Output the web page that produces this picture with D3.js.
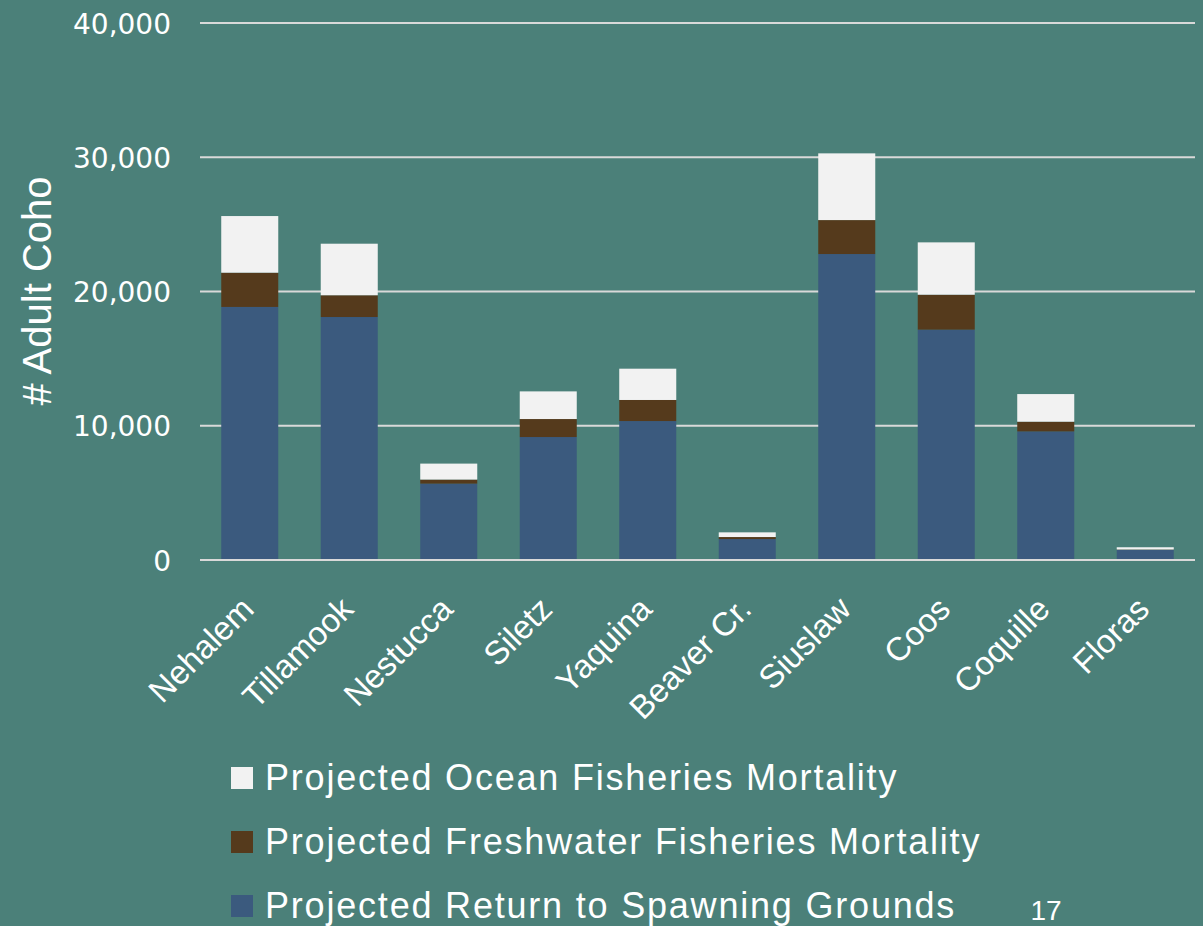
<!DOCTYPE html>
<html><head><meta charset="utf-8">
<script src="https://cdn.jsdelivr.net/npm/d3@7"></script>
<style>html,body{margin:0;padding:0;background:#4b8079;}svg{display:block;}</style>
</head><body>
<svg id="c" width="1203" height="926"></svg>
<script>
const categories = ["Nehalem","Tillamook","Nestucca","Siletz","Yaquina","Beaver Cr.","Siuslaw","Coos","Coquille","Floras"];
const spawning = [18850,18100,5690,9160,10350,1560,22790,17160,9580,750];
const freshwater = [2550,1620,300,1340,1570,150,2530,2600,720,30];
const ocean = [4220,3840,1190,2060,2330,350,4970,3900,2060,170];
const seriesNames = ["Projected Return to Spawning Grounds","Projected Freshwater Fisheries Mortality","Projected Ocean Fisheries Mortality"];
const seriesColors = ["#3b5a7e","#553a1c","#f2f2f2"];
const yTicks = [0,10000,20000,30000,40000];
const yTitle = "# Adult Coho";
const pageNumber = "17";

const svg = d3.select("#c");
const W=1203,H=926;
svg.append("rect").attr("width",W).attr("height",H).attr("fill","#4b8079");
const font = "Liberation Sans, Arial, sans-serif";

const x = d3.scaleBand().domain(categories).range([200,1195]).paddingInner(0.427).paddingOuter(0.2135);
const y = d3.scaleLinear().domain([0,40000]).range([560,23]);

// gridlines
svg.append("g").selectAll("line").data(yTicks).join("line")
  .attr("x1",200).attr("x2",1195).attr("y1",d=>y(d)).attr("y2",d=>y(d))
  .attr("stroke","#d9d9d9").attr("stroke-width",2);

// y axis labels
const yAxis = d3.axisLeft(y).tickValues(yTicks).tickSize(0).tickPadding(0).tickFormat(d3.format(","));
const ga = svg.append("g").attr("transform","translate(171,0)").call(yAxis);
ga.select(".domain").remove();
ga.selectAll("text").attr("fill","#ffffff").attr("font-family","DejaVu Sans, sans-serif").attr("font-size",28).attr("dy","0.36em");

// stacked bars
const rows = categories.map((c,i)=>({cat:c,s0:spawning[i],s1:freshwater[i],s2:ocean[i]}));
const stack = d3.stack().keys(["s0","s1","s2"])(rows);
svg.append("g").selectAll("g").data(stack).join("g")
  .attr("fill",(d,i)=>seriesColors[i])
  .selectAll("rect").data(d=>d).join("rect")
  .attr("x",d=>x(d.data.cat)).attr("width",x.bandwidth())
  .attr("y",d=>y(d[1])).attr("height",d=>Math.max(0,y(d[0])-y(d[1])));

// baseline on top
svg.append("line").attr("x1",200).attr("x2",1195).attr("y1",y(0)).attr("y2",y(0))
  .attr("stroke","#d9d9d9").attr("stroke-width",2);

// x labels
const xAxis = d3.axisBottom(x).tickSize(0).tickPadding(0);
const gx = svg.append("g").attr("transform","translate(0,560)").call(xAxis);
gx.select(".domain").remove();
gx.selectAll("text").attr("fill","#ffffff").attr("font-family",font).attr("font-size",33)
  .attr("text-anchor","end").attr("dy",null).attr("y",0)
  .attr("transform","translate(6,51) rotate(-45)");

// y title
svg.append("text").attr("transform","translate(51,291) rotate(-90)")
  .attr("text-anchor","middle").attr("fill","#ffffff").attr("font-family",font).attr("font-size",40)
  .text(yTitle);

// legend
const legendOrder = [2,1,0];
const lg = svg.append("g");
legendOrder.forEach((si,k)=>{
  const by = 790 + k*64;
  lg.append("rect").attr("x",231).attr("y",by-23).attr("width",22).attr("height",22).attr("fill",seriesColors[si]);
  lg.append("text").attr("x",265).attr("y",by).attr("fill","#ffffff").attr("font-family",font).attr("font-size",36)
    .attr("letter-spacing",1.8)
    .text(seriesNames[si]);
});

svg.append("text").attr("x",1046).attr("y",920).attr("text-anchor","middle").attr("fill","#ffffff")
  .attr("font-family",font).attr("font-size",28).text(pageNumber);
</script>
</body></html>
